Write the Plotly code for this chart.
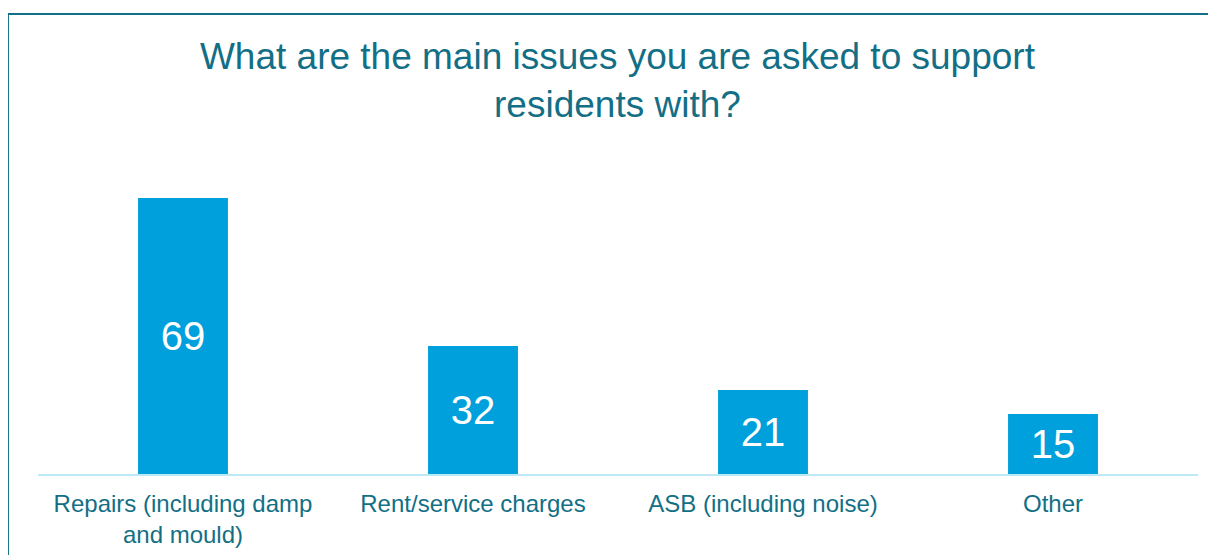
import plotly.graph_objects as go

# chart data
categories = ["Repairs (including damp<br>and mould)", "Rent/service charges",
              "ASB (including noise)", "Other"]
values = [69, 32, 21, 15]
title_text = "What are the main issues you are asked to support<br>residents with?"

bar_color = "#00A0DC"
teal = "#136F85"
font_family = "Arial, Liberation Sans, sans-serif"

fig = go.Figure()

fig.add_trace(go.Bar(
    x=categories,
    y=values,
    marker=dict(color=bar_color, line=dict(width=0)),
    text=[str(v) for v in values],
    textposition="inside",
    insidetextanchor="middle",
    textfont=dict(family=font_family, size=40, color="white"),
    hoverinfo="x+y",
))

# frame around the chart (runs off the right and bottom edges)
fig.add_shape(
    type="rect", xref="paper", yref="paper",
    x0=-0.0259, x1=1.05, y0=-0.35, y1=1.3372,
    line=dict(color=teal, width=2), fillcolor="rgba(0,0,0,0)",
    layer="below",
)

# page body adds an 8px margin, so margins are shifted to compensate
fig.update_layout(
    width=1208,
    height=555,
    margin=dict(l=30, r=18, t=122, b=89, autoexpand=False),
    paper_bgcolor="white",
    plot_bgcolor="white",
    bargap=0.69,
    showlegend=False,
    title=dict(
        text=title_text,
        x=0.5045, xanchor="center",
        y=1 - 61 / 555, yanchor="top", yref="container",
        font=dict(family=font_family, size=37, color=teal),
    ),
    font=dict(family=font_family, color=teal),
    xaxis=dict(
        showline=True, linecolor="#BDE9F6", linewidth=2,
        showgrid=False, ticks="", zeroline=False,
        ticklabelstandoff=7, automargin=False,
        tickfont=dict(family=font_family, size=24, color=teal),
        fixedrange=True,
    ),
    yaxis=dict(
        range=[0, 86], visible=False, showgrid=False, zeroline=False,
        fixedrange=True,
    ),
)

fig.write_html("out.html")
